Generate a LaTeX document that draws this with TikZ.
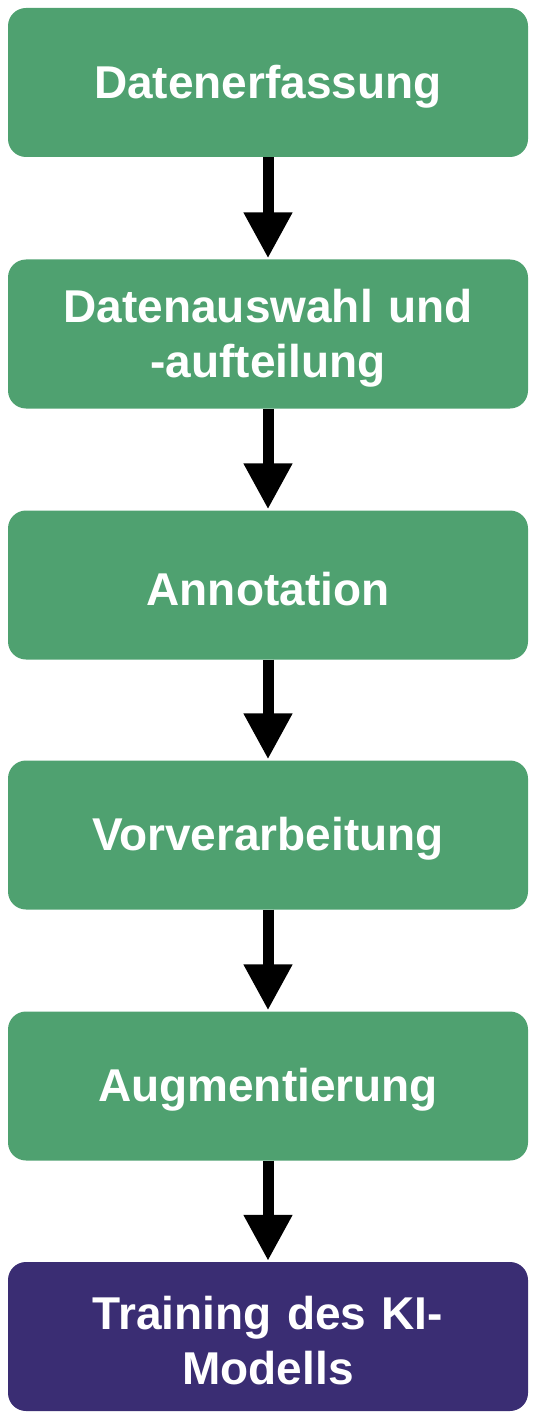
\documentclass[tikz,border=0pt]{standalone}
\usepackage{fontspec}
\setmainfont{Liberation Sans}
\usetikzlibrary{arrows.meta}
\definecolor{stepgreen}{RGB}{79,161,112}
\definecolor{steppurple}{RGB}{58,45,115}
\tikzset{
  stepbox/.style={draw=none, fill=stepgreen, rounded corners=18pt, minimum width=520pt, minimum height=149pt, inner sep=0pt,
    text=white, font=\fontsize{46}{55}\selectfont\bfseries, align=center, text width=500pt,
    execute at begin node={\rule{0pt}{41pt}}},
  finalbox/.style={stepbox, fill=steppurple},
  flow/.style={line width=11pt, -{Triangle[width=46pt,length=46pt]}, shorten >=1pt}
}
\begin{document}
\begin{tikzpicture}[x=1pt,y=-1pt]
\useasboundingbox (0,0) rectangle (536,1420);
\node[stepbox] (s1) at (268,82.5) {Datenerfassung};
\node[stepbox] (s2) at (268,334) {Datenauswahl und\\-aufteilung};
\node[stepbox] (s3) at (268,585) {Annotation};
\node[stepbox] (s4) at (268,835) {Vorverarbeitung};
\node[stepbox] (s5) at (268,1086) {Augmentierung};
\node[finalbox] (s6) at (268,1336.5) {Training des KI-\\Modells};
\draw[flow] (s1.south) -- (s2.north);
\draw[flow] (s2.south) -- (s3.north);
\draw[flow] (s3.south) -- (s4.north);
\draw[flow] (s4.south) -- (s5.north);
\draw[flow] (s5.south) -- (s6.north);
\end{tikzpicture}
\end{document}
